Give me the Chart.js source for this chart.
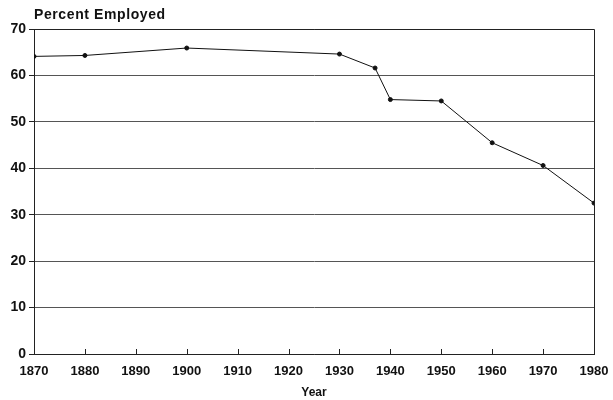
<html lang="en">
<head>
<meta charset="UTF-8">
<title>Percent Employed</title>
<script src="https://cdn.jsdelivr.net/npm/chart.js@4.4.0/dist/chart.umd.min.js"></script>
<style>
  body { margin: 0; background: #fff; }
</style>
</head>
<body>
<canvas id="mycanvas" width="613" height="400"></canvas>
<script>
// data
var years = [1870, 1880, 1900, 1930, 1937, 1940, 1950, 1960, 1970, 1980];
var employed = [64.1, 64.3, 65.9, 64.6, 61.6, 54.8, 54.5, 45.5, 40.6, 32.5];
var xTicks = [1870, 1880, 1890, 1900, 1910, 1920, 1930, 1940, 1950, 1960, 1970, 1980];
var yTicks = [0, 10, 20, 30, 40, 50, 60, 70];
var yLabel = 'Percent Employed';

var points = years.map(function (y, i) { return { x: y, y: employed[i] }; });

// frame on top/right, small inward ticks on the x axis, y label over the axis
var framePlugin = {
    id: 'frame',
    afterDraw: function (chart) {
        var ctx = chart.ctx, a = chart.chartArea, xs = chart.scales.x;
        ctx.save();
        ctx.strokeStyle = '#222';
        ctx.lineWidth = 1;
        ctx.beginPath();
        ctx.moveTo(a.left, a.top + 0.5);
        ctx.lineTo(a.right + 0.5, a.top + 0.5);
        ctx.lineTo(a.right + 0.5, a.bottom);
        ctx.stroke();
        ctx.beginPath();
        xTicks.forEach(function (t) {
            var px = Math.round(xs.getPixelForValue(t)) + 0.5;
            ctx.moveTo(px, a.bottom);
            ctx.lineTo(px, a.bottom - 5);
        });
        ctx.stroke();
        ctx.fillStyle = '#111';
        ctx.font = 'bold 14px "Liberation Sans"';
        ctx.letterSpacing = '0.6px';
        ctx.textBaseline = 'alphabetic';
        ctx.textAlign = 'left';
        ctx.fillText(yLabel, a.left, 19);
        ctx.restore();
    }
};

var ctx = document.getElementById('mycanvas');
new Chart(ctx, {
    type: 'line',
    data: {
        datasets: [{
            data: points,
            borderColor: '#111',
            backgroundColor: '#111',
            borderWidth: 1,
            pointRadius: 2,
            pointHoverRadius: 2,
            lineTension: 0,
            fill: false
        }]
    },
    plugins: [framePlugin],
    options: {
        responsive: false,
        animation: false,
        layout: { padding: { left: 0, right: 19, top: 29, bottom: 0 } },
        plugins: {
            legend: { display: false },
            tooltip: { enabled: false }
        },
        scales: {
            x: {
                type: 'linear',
                min: 1870,
                max: 1980,
                afterBuildTicks: function (s) { s.ticks = xTicks.map(function (v) { return { value: v }; }); },
                ticks: {
                    color: '#111',
                    padding: 2,
                    maxRotation: 0,
                    font: { family: 'Liberation Sans', size: 13, weight: 'bold' },
                    callback: function (v) { return String(v); }
                },
                grid: { display: false },
                border: { color: '#222', width: 1 },
                title: {
                    display: true,
                    text: 'Year',
                    color: '#111',
                    font: { family: 'Liberation Sans', size: 12, weight: 'bold' },
                    padding: { top: 4, bottom: 0 }
                }
            },
            y: {
                min: 0,
                max: 70,
                afterBuildTicks: function (s) { s.ticks = yTicks.map(function (v) { return { value: v }; }); },
                afterFit: function (s) { s.width = 34; },
                ticks: {
                    color: '#111',
                    padding: 3,
                    font: { family: 'Liberation Sans', size: 14, weight: 'bold' }
                },
                grid: {
                    color: '#555',
                    lineWidth: 1,
                    tickLength: 5,
                    tickColor: '#222'
                },
                border: { color: '#222', width: 1 }
            }
        }
    }
});
</script>
</body>
</html>
